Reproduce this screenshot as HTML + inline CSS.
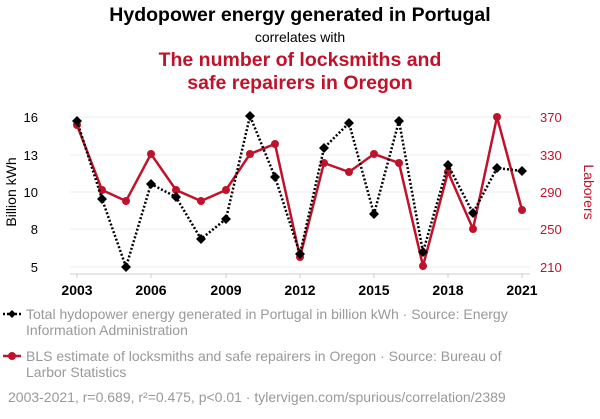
<!DOCTYPE html>
<html><head><meta charset="utf-8"><style>
body{margin:0;background:#fff;width:600px;height:414px;overflow:hidden;font-family:"Liberation Sans",sans-serif}
</style></head><body>
<svg width="600" height="414" xmlns="http://www.w3.org/2000/svg" font-family="Liberation Sans, sans-serif">
<text x="300" y="21" text-anchor="middle" font-size="19.5" font-weight="bold" fill="#000">Hydopower energy generated in Portugal</text>
<text x="300" y="42" text-anchor="middle" font-size="14" fill="#000">correlates with</text>
<text x="300" y="66" text-anchor="middle" font-size="19.5" font-weight="bold" fill="#c0132b">The number of locksmiths and</text>
<text x="300" y="89" text-anchor="middle" font-size="19.5" font-weight="bold" fill="#c0132b">safe repairers in Oregon</text>
<g stroke="#eee" stroke-width="1">
<line x1="70" x2="530" y1="117" y2="117"/><line x1="70" x2="530" y1="155" y2="155"/><line x1="70" x2="530" y1="192" y2="192"/><line x1="70" x2="530" y1="229" y2="229"/><line x1="70" x2="530" y1="267" y2="267"/>
</g>
<line x1="70" x2="530" y1="274" y2="274" stroke="#ccc"/>
<g stroke="#ccc"><line x1="77" x2="77" y1="274" y2="278"/><line x1="151" x2="151" y1="274" y2="278"/><line x1="226" x2="226" y1="274" y2="278"/><line x1="300" x2="300" y1="274" y2="278"/><line x1="374" x2="374" y1="274" y2="278"/><line x1="448" x2="448" y1="274" y2="278"/><line x1="522" x2="522" y1="274" y2="278"/></g>
<g font-size="13" fill="#000" text-anchor="end">
<text x="38" y="122">16</text><text x="38" y="160">13</text><text x="38" y="197">10</text><text x="38" y="234">8</text><text x="38" y="272">5</text>
</g>
<g font-size="13" fill="#c0132b" text-anchor="start">
<text x="540" y="122">370</text><text x="540" y="160">330</text><text x="540" y="197">290</text><text x="540" y="234">250</text><text x="540" y="272">210</text>
</g>
<g font-size="14" font-weight="bold" fill="#000" text-anchor="middle">
<text x="77" y="295">2003</text><text x="151" y="295">2006</text><text x="226" y="295">2009</text><text x="300" y="295">2012</text><text x="374" y="295">2015</text><text x="448" y="295">2018</text><text x="522" y="295">2021</text>
</g>
<text transform="translate(16,192) rotate(-90)" text-anchor="middle" font-size="14" fill="#000">Billion kWh</text>
<text transform="translate(584,192) rotate(90)" text-anchor="middle" font-size="14" fill="#c0132b">Laborers</text>
<polyline fill="none" stroke="#c0132b" stroke-width="2.5" points="77,125 102,190 126,201 151,154 176,190 201,201 226,190 250,154 275,144 300,257 324,163 349,172 374,154 399,163 423,266 448,172 473,229 497,117 522,210"/>
<g fill="#c0132b">
<circle cx="77" cy="125" r="4"/><circle cx="102" cy="190" r="4"/><circle cx="126" cy="201" r="4"/><circle cx="151" cy="154" r="4"/><circle cx="176" cy="190" r="4"/><circle cx="201" cy="201" r="4"/><circle cx="226" cy="190" r="4"/><circle cx="250" cy="154" r="4"/><circle cx="275" cy="144" r="4"/><circle cx="300" cy="257" r="4"/><circle cx="324" cy="163" r="4"/><circle cx="349" cy="172" r="4"/><circle cx="374" cy="154" r="4"/><circle cx="399" cy="163" r="4"/><circle cx="423" cy="266" r="4"/><circle cx="448" cy="172" r="4"/><circle cx="473" cy="229" r="4"/><circle cx="497" cy="117" r="4"/><circle cx="522" cy="210" r="4"/>
</g>
<polyline fill="none" stroke="#000" stroke-width="2.5" stroke-dasharray="2,2" points="77,121 102,199 126,267 151,184 176,197 201,239 226,219 250,116 275,177 300,254 324,148 349,123 374,214 399,121 423,252 448,165 473,213 497,168 522,171"/>
<g fill="#000">
<path d="M77 116l5 5-5 5-5-5z"/><path d="M102 194l5 5-5 5-5-5z"/><path d="M126 262l5 5-5 5-5-5z"/><path d="M151 179l5 5-5 5-5-5z"/><path d="M176 192l5 5-5 5-5-5z"/><path d="M201 234l5 5-5 5-5-5z"/><path d="M226 214l5 5-5 5-5-5z"/><path d="M250 111l5 5-5 5-5-5z"/><path d="M275 172l5 5-5 5-5-5z"/><path d="M300 249l5 5-5 5-5-5z"/><path d="M324 143l5 5-5 5-5-5z"/><path d="M349 118l5 5-5 5-5-5z"/><path d="M374 209l5 5-5 5-5-5z"/><path d="M399 116l5 5-5 5-5-5z"/><path d="M423 247l5 5-5 5-5-5z"/><path d="M448 160l5 5-5 5-5-5z"/><path d="M473 208l5 5-5 5-5-5z"/><path d="M497 163l5 5-5 5-5-5z"/><path d="M522 166l5 5-5 5-5-5z"/>
</g>
<line x1="3" x2="21" y1="314" y2="314" stroke="#000" stroke-width="2.5" stroke-dasharray="2,2"/>
<path d="M12 310l4 4-4 4-4-4z" fill="#000"/>
<text x="26" y="319" font-size="14" fill="#999">Total hydopower energy generated in Portugal in billion kWh · Source: Energy</text>
<text x="26" y="335" font-size="14" fill="#999">Information Administration</text>
<line x1="3" x2="21" y1="356" y2="356" stroke="#c0132b" stroke-width="2.5"/>
<circle cx="12" cy="356" r="4" fill="#c0132b"/>
<text x="26" y="361" font-size="14" fill="#999">BLS estimate of locksmiths and safe repairers in Oregon · Source: Bureau of</text>
<text x="26" y="377" font-size="14" fill="#999">Larbor Statistics</text>
<text x="8" y="402" font-size="14" fill="#999">2003-2021, r=0.689, r²=0.475, p&lt;0.01 · tylervigen.com/spurious/correlation/2389</text>
</svg>
</body></html>
